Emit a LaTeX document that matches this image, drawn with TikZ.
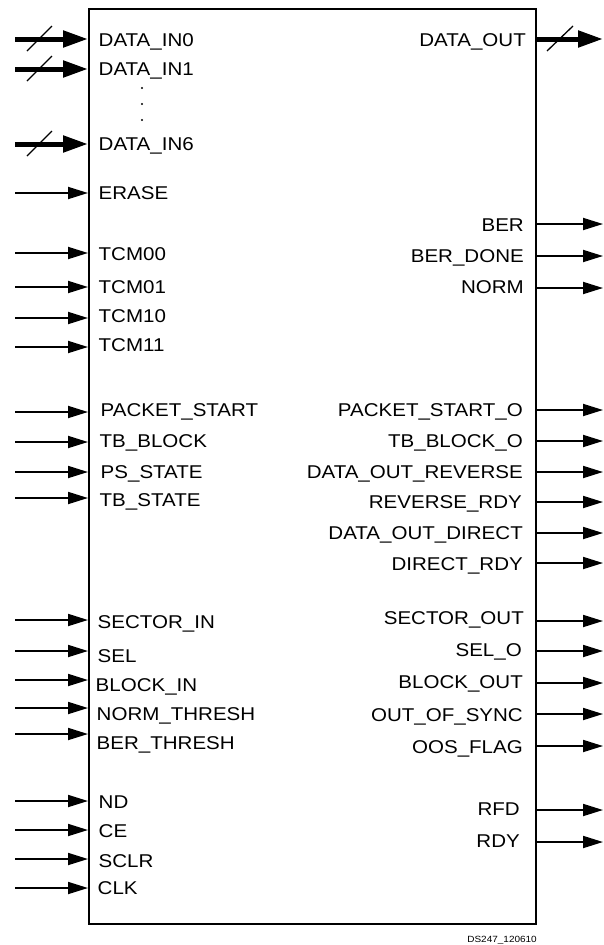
\documentclass[tikz,border=0pt]{standalone}
\usepackage{fontspec}
\setmainfont{Liberation Sans}[FakeStretch=1.11]
\usetikzlibrary{arrows.meta}
\begin{document}
\begin{tikzpicture}[x=1pt,y=-1pt,
  lbl/.style={inner sep=0pt, font=\fontsize{18.5}{20}\selectfont},
  sig/.style={line width=1.8pt, -{Triangle[length=20pt,width=12pt]}},
  bus/.style={line width=5pt, -{Triangle[length=25pt,width=16pt]}},
  slash/.style={line width=1.3pt},
  vdot/.style={fill, circle, inner sep=0pt, minimum size=2.4pt}]
\useasboundingbox (0,0) rectangle (603,945);
\node[draw, line width=2pt, anchor=north west, minimum width=447pt,
      minimum height=915pt, inner sep=0pt] (blk) at (88,8) {};
% bus inputs
\foreach \ya/\yt/\t [count=\k] in {39/40/DATA\_IN0, 69/68.7/DATA\_IN1, 144/143.7/DATA\_IN6} {
  \coordinate (bs\k) at (15,\ya);
  \coordinate (be\k) at (88,\ya);
  \draw[bus] (bs\k) -- (be\k);
  \draw[slash] (27,\ya+12) -- (52,\ya-13);
  \node[lbl, anchor=base west] (bl\k) at (98.5,\yt+6.6) {\t};
}
% vertical dots
\foreach \yy [count=\k] in {88,104,120} {
  \node[vdot] (dot\k) at (142,\yy) {};
}
% thin inputs
\foreach \ya/\yt/\xt/\t [count=\k] in {
  193/193/100/ERASE,
  253/253.7/100/TCM00,
  287/286.7/100/TCM01,
  318/316/100/TCM10,
  347/345/100/TCM11,
  412/410/102/PACKET\_START,
  442/441/101/TB\_BLOCK,
  472/472/102/PS\_STATE,
  498/500/101/TB\_STATE,
  620/621.7/99/SECTOR\_IN,
  651/655.7/99/SEL,
  680/685/97/BLOCK\_IN,
  708/714/98/NORM\_THRESH,
  734/743/98/BER\_THRESH,
  801/801.7/100/ND,
  830/831/100/CE,
  859/860.7/100/SCLR,
  888/888/99/CLK} {
  \coordinate (is\k) at (15,\ya);
  \coordinate (ie\k) at (88,\ya);
  \draw[sig] (is\k) -- (ie\k);
  \node[lbl, anchor=base west] (il\k) at (\xt-1.5,\yt+6.6) {\t};
}
% bus output
\coordinate (obs) at (535,39);
\coordinate (obe) at (603,39);
\draw[bus] (obs) -- (obe);
\draw[slash] (547,51) -- (573,26);
\node[lbl, anchor=base east] (obl) at (526,40+6.6) {DATA\_OUT};
% thin outputs
\foreach \ya/\yt/\xt/\t [count=\k] in {
  224/225/523/BER,
  256/256/523/BER\_DONE,
  288/287/523/NORM,
  410/409.7/522/PACKET\_START\_O,
  441/440.7/522/TB\_BLOCK\_O,
  472/471.7/522/DATA\_OUT\_REVERSE,
  502/502/521/REVERSE\_RDY,
  533/533/522/DATA\_OUT\_DIRECT,
  563/564/522/DIRECT\_RDY,
  621/618/523/SECTOR\_OUT,
  651/650/521/SEL\_O,
  683/682/522/BLOCK\_OUT,
  714/715/522/OUT\_OF\_SYNC,
  746/747/522/OOS\_FLAG,
  810/809/519/RFD,
  842/841/519/RDY} {
  \coordinate (os\k) at (535,\ya);
  \coordinate (oe\k) at (603,\ya);
  \draw[sig] (os\k) -- (oe\k);
  \node[lbl, anchor=base east] (ol\k) at (\xt+1,\yt+6.6) {\t};
}
\node[inner sep=0pt, anchor=base east, font=\fontsize{9}{10}\selectfont] (ds) at (537,942) {DS247\_120610};
\end{tikzpicture}
\end{document}
